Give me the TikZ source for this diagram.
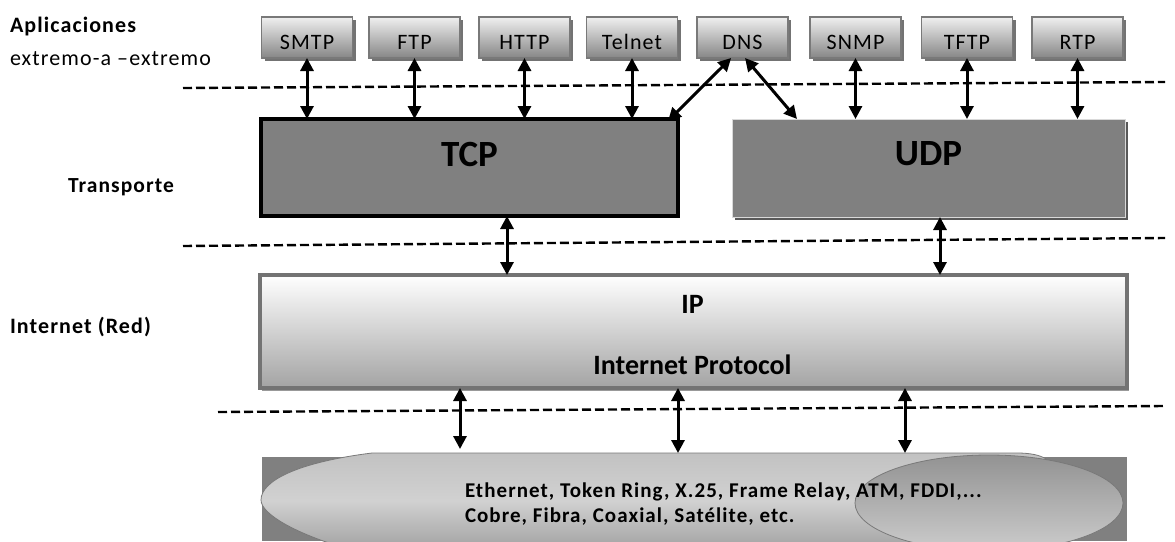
\documentclass[tikz,border=0pt]{standalone}
\usepackage{fontspec}
\setmainfont{Carlito}[LetterSpace=5]
\newfontfamily\plainfont{Carlito}
\usetikzlibrary{arrows.meta,shadows}
\begin{document}
\begin{tikzpicture}[x=1pt,y=-1pt,
  every node/.style={inner sep=0pt, outer sep=0pt},
  app/.style={draw=gray!95!black, line width=1.2pt, top color=gray!12, bottom color=gray!95,
    minimum width=91pt, minimum height=41pt, font=\fontsize{22}{24}\selectfont,
    text height=24pt, text depth=0pt,
    drop shadow={shadow xshift=3pt, shadow yshift=-3pt, fill=gray!90!black, opacity=1}},
  arr/.style={line width=3pt, {Triangle[length=13pt,width=13pt]}-{Triangle[length=13pt,width=13pt]}},
  sep/.style={line width=2.4pt, dash pattern=on 9pt off 4pt},
  lbl/.style={anchor=base west, font=\bfseries\fontsize{22}{24}\selectfont},
  big/.style={font=\plainfont\bfseries\fontsize{37}{39}\selectfont},
  mid/.style={anchor=base, font=\plainfont\bfseries\fontsize{28}{30}\selectfont},
  phys/.style={anchor=base west, font=\bfseries\fontsize{21}{23}\selectfont},
]
\useasboundingbox (0,0) rectangle (1175,541);
\fill[white] (0,0) rectangle (1175,541);

% separators
\draw[sep] (183,88) -- (1165,82);
\draw[sep] (183,246) -- (1165,238);
\draw[sep] (218,412) -- (1165,406);

% labels left
\node[lbl] (apl) at (10,32) {Aplicaciones};
\node[anchor=base west, font=\fontsize{22}{24}\selectfont] (e2e) at (10,65) {extremo-a –extremo};
\node[lbl, font=\bfseries\fontsize{21.5}{24}\selectfont] (tra) at (68,192) {Transporte};
\node[lbl] (inet) at (10,333) {Internet (Red)};

% application boxes
\node[app] (smtp) at (307,37.5) {SMTP};
\node[app] (ftp) at (414.5,37.5) {FTP};
\node[app] (http) at (524.5,37.5) {HTTP};
\node[app] (telnet) at (632,37.5) {Telnet};
\node[app] (dns) at (742.5,37.5) {DNS};
\node[app] (snmp) at (855.5,37.5) {SNMP};
\node[app] (tftp) at (967,37.5) {TFTP};
\node[app] (rtp) at (1077.5,37.5) {RTP};

% transport
\node[draw=black, line width=4pt, fill=gray, minimum width=417pt, minimum height=97pt,
  big, text height=0pt, text depth=3pt] (tcp) at (469.5,167.5) {TCP};
\node[draw=gray!30, line width=1pt, fill=gray, minimum width=393pt, minimum height=98pt,
  big, text height=0pt, text depth=6pt,
  drop shadow={shadow xshift=3pt, shadow yshift=-3pt, fill=gray!70!black, opacity=1}] (udp) at (928.5,168) {UDP};

% IP
\node[draw=gray!90!black, line width=4pt, top color=white, bottom color=gray!72,
  minimum width=867pt, minimum height=113pt,
  drop shadow={shadow xshift=2pt, shadow yshift=-3pt, fill=gray!80, opacity=1}] (ip) at (693.5,331.5) {};
\node[mid] (iptxt) at (692.5,313) {IP};
\node[mid] (iptxt2) at (692.5,374) {Internet Protocol};

% physical layer
\fill[gray] (262,457) rectangle (1127,541);
\begin{scope}
\clip (258,448) rectangle (1130,541);
\draw[gray!95!black, line width=0.8pt, top color=gray!48, bottom color=gray!72, middle color=gray!36]
  (372,453) -- (1017,453) .. controls (1030,453) and (1040,455) .. (1046,459)
  -- (1046,548) -- (345,548) .. controls (300,535) and (261,515) .. (261,500)
  .. controls (261,480) and (300,462) .. (372,453) -- cycle;
\draw[gray!95!black, line width=0.8pt, top color=gray!85, bottom color=gray!40]
  (989,503) ellipse [x radius=134, y radius=48];
\end{scope}
\node[phys] (ph1) at (465,497) {Ethernet, Token Ring, X.25, Frame Relay, ATM, FDDI,...};
\node[phys] (ph2) at (465,522) {Cobre, Fibra, Coaxial, Satélite, etc.};

% connectors
\foreach \n in {smtp,ftp,http,telnet}
  \draw[arr] (\n.south) -- (\n.south |- tcp.north);
\foreach \n in {snmp,tftp,rtp}
  \draw[arr] (\n.south) -- (\n.south |- udp.north);
\coordinate (tA) at (668,121);
\coordinate (uA) at (797,119);
\draw[arr] (dns.-119) -- (tA);
\draw[arr] (dns.-83) -- (uA);

\coordinate (x1) at (507,0);
\coordinate (x2) at (940,0);
\draw[arr] (tcp.south -| x1) -- (ip.north -| x1);
\draw[arr] (udp.south -| x2) -- (ip.north -| x2);

\coordinate (b1) at (460,449);
\coordinate (b2) at (678,453);
\coordinate (b3) at (905,453);
\draw[arr] (ip.south -| b1) -- (b1);
\draw[arr] (ip.south -| b2) -- (b2);
\draw[arr] (ip.south -| b3) -- (b3);
\end{tikzpicture}
\end{document}
